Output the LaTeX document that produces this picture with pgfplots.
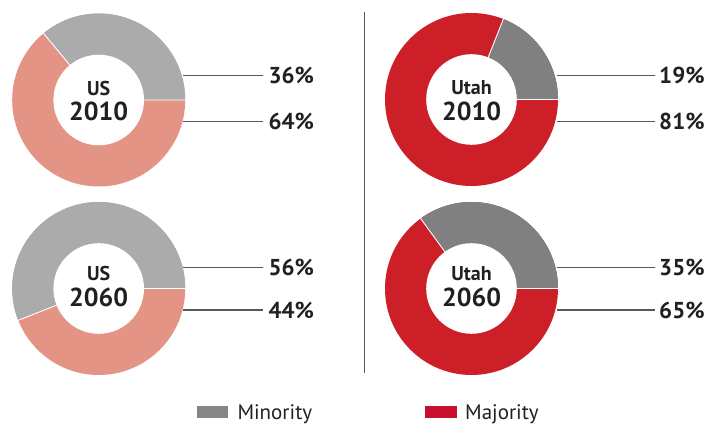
\documentclass[border=0pt]{standalone}
\usepackage{pgfplots}
\pgfplotsset{compat=1.18}
\usepackage{pgfplotstable}
\usepackage{fontspec}
\setmainfont{PT Sans}
\definecolor{usgray}{HTML}{ABABAB}
\definecolor{ussalmon}{HTML}{E49484}
\definecolor{utgray}{HTML}{808080}
\definecolor{utred}{HTML}{CC1F27}
\definecolor{leggray}{HTML}{858585}
\definecolor{legred}{HTML}{C8102E}
\definecolor{txt}{HTML}{231F20}
\definecolor{lead}{HTML}{58595B}

\pgfplotstableread{
name year minority majority cx cy ytop ybot lxa lxb tx mincol majcol nameoff yearoff
US 2010 36 64 98.7 325 349.3 303.5 182.7 262.7 268.3 usgray ussalmon 4.8 -21
US 2060 56 44 98.7 136.5 157.3 115 182.7 262.7 268.3 usgray ussalmon 7.5 -18.4
Utah 2010 19 81 471.5 325.5 349.3 303.5 557 655 659 utgray utred 4.8 -21
Utah 2060 35 65 471.5 136.5 157.3 115 557 655 659 utgray utred 7.5 -18.4
}\donuts

\begin{document}
\begin{tikzpicture}
\begin{axis}[
  x=1pt, y=1pt, xmin=0, xmax=727, ymin=0, ymax=425,
  hide axis, clip=false, scale only axis,
]
% keep the full canvas as bounding box
\path (axis cs:0,0) rectangle (axis cs:727,425);
% divider
\addplot[draw=lead, line width=0.9pt] coordinates {(364,413) (364,51.7)};
\pgfplotsextra{%
\foreach \i in {0,...,3}{%
  \pgfplotstablegetelem{\i}{name}\of\donuts \let\nm\pgfplotsretval
  \pgfplotstablegetelem{\i}{year}\of\donuts \let\yr\pgfplotsretval
  \pgfplotstablegetelem{\i}{minority}\of\donuts \let\mi\pgfplotsretval
  \pgfplotstablegetelem{\i}{majority}\of\donuts \let\ma\pgfplotsretval
  \pgfplotstablegetelem{\i}{cx}\of\donuts \let\cx\pgfplotsretval
  \pgfplotstablegetelem{\i}{cy}\of\donuts \let\cy\pgfplotsretval
  \pgfplotstablegetelem{\i}{ytop}\of\donuts \let\yt\pgfplotsretval
  \pgfplotstablegetelem{\i}{ybot}\of\donuts \let\yb\pgfplotsretval
  \pgfplotstablegetelem{\i}{lxa}\of\donuts \let\lxa\pgfplotsretval
  \pgfplotstablegetelem{\i}{lxb}\of\donuts \let\lxb\pgfplotsretval
  \pgfplotstablegetelem{\i}{tx}\of\donuts \let\tx\pgfplotsretval
  \pgfplotstablegetelem{\i}{mincol}\of\donuts \let\minc\pgfplotsretval
  \pgfplotstablegetelem{\i}{majcol}\of\donuts \let\majc\pgfplotsretval
  \pgfplotstablegetelem{\i}{nameoff}\of\donuts \let\noff\pgfplotsretval
  \pgfplotstablegetelem{\i}{yearoff}\of\donuts \let\yoff\pgfplotsretval
  \pgfmathsetmacro\ang{3.6*\mi}
  \pgfmathsetmacro\ny{\cy+\noff}
  \pgfmathsetmacro\yy{\cy+\yoff}
  \fill[fill=\majc] (axis cs:\cx,\cy) circle[radius=86.5pt];
  \fill[fill=\minc] (axis cs:\cx,\cy) -- ++(0:86.5pt) arc[start angle=0, end angle=\ang, radius=86.5pt] -- cycle;
  \draw[white, line width=0.9pt] (axis cs:\cx,\cy) -- ++(0:87pt) (axis cs:\cx,\cy) -- ++(\ang:87pt);
  \fill[white] (axis cs:\cx,\cy) circle[radius=45.3pt];
  \node[anchor=base, inner sep=0, text=txt, font={\fontsize{20}{20}\selectfont\bfseries}] at (axis cs:\cx,\ny) {\nm};
  \node[anchor=base, inner sep=0, text=txt, font={\fontsize{26}{26}\selectfont\bfseries}] at (axis cs:\cx,\yy) {\yr};
  \draw[lead, line width=1.2pt] (axis cs:\lxa,\yt) -- (axis cs:\lxb,\yt);
  \draw[lead, line width=1.2pt] (axis cs:\lxa,\yb) -- (axis cs:\lxb,\yb);
  \node[anchor=west, inner sep=0, text=txt, font={\fontsize{23}{23}\selectfont\bfseries}] at (axis cs:\tx,\yt) {\mi\%};
  \node[anchor=west, inner sep=0, text=txt, font={\fontsize{23}{23}\selectfont\bfseries}] at (axis cs:\tx,\yb) {\ma\%};
}%
% legend
\fill[leggray] (axis cs:197.3,6.7) rectangle (axis cs:228.3,19);
\fill[legred] (axis cs:425,6.7) rectangle (axis cs:456.7,19);
\node[anchor=base west, inner sep=0, text=txt, font={\fontsize{21}{21}\selectfont}] at (axis cs:237.3,5.7) {Minority};
\node[anchor=base west, inner sep=0, text=txt, font={\fontsize{21}{21}\selectfont}] at (axis cs:465,5.7) {Majority};
}
\end{axis}
\end{tikzpicture}
\end{document}
